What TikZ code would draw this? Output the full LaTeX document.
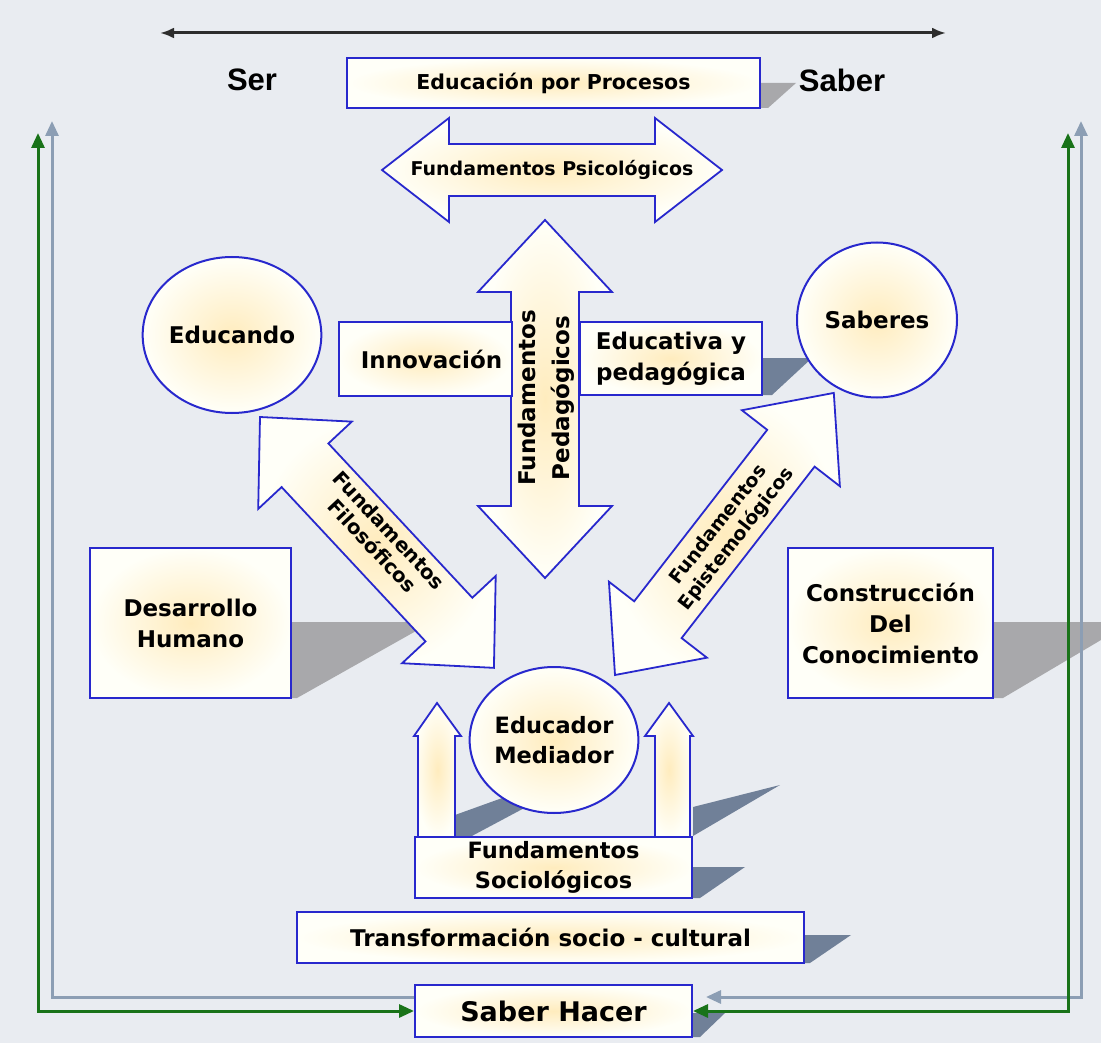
\documentclass[tikz,border=0pt]{standalone}
\usepackage{fontspec}
\setmainfont{DejaVu Sans}
\newfontfamily\arialfont{Liberation Sans}
\usetikzlibrary{shapes.geometric,arrows.meta}

\definecolor{bgpaper}{RGB}{233,236,241}
\definecolor{edgeblue}{RGB}{40,40,205}
\definecolor{creamc}{RGB}{255,236,190}
\definecolor{creamo}{RGB}{255,255,248}
\definecolor{shadowgray}{RGB}{168,168,171}
\definecolor{shadowslate}{RGB}{112,128,152}
\definecolor{linegreen}{RGB}{25,115,25}
\definecolor{linegray}{RGB}{140,158,180}
\definecolor{topgray}{RGB}{45,45,45}

\tikzset{
  box/.style={draw=edgeblue, line width=2pt, inner color=creamc, outer color=creamo,
    inner sep=0pt, align=center, font=\bfseries\fontsize{23}{31}\selectfont},
  oval/.style={box, ellipse},
  arrowbody/.style={draw=edgeblue, line width=1.8pt, line join=miter,
    inner color=creamc, outer color=creamo},
  lbl/.style={align=center, inner sep=0pt},
  shgray/.style={fill=shadowgray},
  shslate/.style={fill=shadowslate},
  greenln/.style={draw=linegreen, line width=3pt},
  grayln/.style={draw=linegray, line width=3pt},
  topln/.style={draw=topgray, line width=3pt},
  smalltri/.tip={Triangle[length=15pt,width=13pt]}
}

% double arrow along x: options, length, half shaft, half head, head length
\newcommand\dblarrow[5]{%
  \begin{scope}[#1]
    \draw[arrowbody] (0,0) -- (#5,#4) -- (#5,#3) -- ({#2-#5},#3) -- ({#2-#5},#4) -- (#2,0)
      -- ({#2-#5},-#4) -- ({#2-#5},-#3) -- (#5,-#3) -- (#5,-#4) -- cycle;
  \end{scope}}

\begin{document}
\begin{tikzpicture}[x=1pt,y=-1pt]
  \useasboundingbox (0,0) rectangle (1101,1043);
  \fill[bgpaper] (0,0) rectangle (1101,1043);

  % shadows
  \fill[shgray] (760,83) -- (796,83) -- (768,108) -- (760,108) -- cycle;
  \fill[shslate] (762,358) -- (812,358) -- (772,395) -- (762,395) -- cycle;
  \fill[shgray] (291,622) -- (432,622) -- (297,698) -- (291,698) -- cycle;
  \fill[shgray] (993,622) -- (1101,622) -- (1101,640) -- (1003,698) -- (993,698) -- cycle;
  \fill[shslate] (455,837) -- (455,815) -- (530,788) -- (530,805) -- (470,837) -- cycle;
  \fill[shslate] (693,807) -- (780,785) -- (693,836) -- cycle;
  \fill[shslate] (692,867) -- (745,867) -- (700,898) -- (692,898) -- cycle;
  \fill[shslate] (804,935) -- (851,935) -- (810,963) -- (804,963) -- cycle;
  \fill[shslate] (692,1013) -- (725,1013) -- (700,1037) -- (692,1037) -- cycle;

  % big arrows
  \dblarrow{shift={(382,170)}}{340}{26}{52}{67}
  \dblarrow{shift={(545,578)},rotate=90}{358}{34}{67}{72}
  \dblarrow{shift={(260,417)},rotate=-47}{343}{32}{64}{66}
  \dblarrow{shift={(615,675)},rotate=52.2}{357}{30}{62}{70}

  % small arrows under the educador
  \draw[arrowbody] (418,837) -- (418,736) -- (414,736) -- (437,703) -- (461,736) -- (455,736) -- (455,837) -- cycle;
  \draw[arrowbody] (655,837) -- (655,736) -- (645,736) -- (669,703) -- (693,736) -- (690,736) -- (690,837) -- cycle;

  % boxes and circles
  \node (proc) at (553.5,83) [box, minimum width=413pt, minimum height=50pt,
    font=\bfseries\fontsize{20.5}{25}\selectfont] {Educación por Procesos};
  \node (innov) at (425.5,359) [box, minimum width=173pt, minimum height=74pt] {\hspace*{12pt}Innovación};
  \node (eduped) at (671,358.5) [box, minimum width=182pt, minimum height=73pt] {Educativa y\\pedagógica};
  \node (desarr) at (190.5,623) [box, minimum width=201pt, minimum height=150pt] {Desarrollo\\Humano};
  \node (constr) at (890.5,623) [box, minimum width=205pt, minimum height=150pt] {Construcción\\Del\\Conocimiento};
  \node (socio) at (553.5,867.5) [box, minimum width=277pt, minimum height=61pt,
    font=\bfseries\fontsize{22.5}{30}\selectfont] {Fundamentos\\Sociológicos};
  \node (transf) at (550.5,937.5) [box, minimum width=507pt, minimum height=51pt] {Transformación socio - cultural};
  \node (hacer) at (553.5,1011) [box, minimum width=277pt, minimum height=52pt,
    font=\bfseries\fontsize{27}{32}\selectfont] {Saber Hacer};
  \node (educando) at (232,335) [oval, minimum width=166pt, minimum height=156pt] {Educando};
  \node (saberes) at (877,320) [oval, minimum width=160pt, minimum height=155pt] {Saberes};
  \node (educador) at (554,740) [oval, minimum width=152pt, minimum height=146pt,
    font=\bfseries\fontsize{22.5}{30}\selectfont] {Educador\\Mediador};

  % arrow labels
  \node (psico) at (552,170) [lbl, font=\bfseries\fontsize{19}{23}\selectfont] {Fundamentos Psicológicos};
  \node (peda) at (546,398) [lbl, rotate=90, font=\bfseries\fontsize{23}{34}\selectfont] {Fundamentos\\Pedagógicos};
  \node (filo) at (381,538) [lbl, rotate=-47, font=\bfseries\fontsize{20}{23}\selectfont] {Fundamentos\\Filosóficos};
  \node (episte) at (728,532) [lbl, rotate=52.2, font=\bfseries\fontsize{19}{23}\selectfont] {Fundamentos\\Epistemológicos};

  \node (ser) at (252,80) [font=\arialfont\bfseries\fontsize{31}{36}\selectfont] {Ser};
  \node (saber) at (842,80) [font=\arialfont\bfseries\fontsize{31}{36}\selectfont] {Saber};

  % side lines
  \coordinate (tL) at (160,33);
  \coordinate (tR) at (946,33);
  \coordinate (gL) at (38,133);
  \coordinate (yL) at (52,121);
  \coordinate (gR) at (1068,133);
  \coordinate (yR) at (1081,121);

  \draw[topln, {Latex[length=14pt,width=11pt]}-{Latex[length=14pt,width=11pt]}] (tL) -- (tR);
  \draw[grayln, smalltri-] (yL) |- ([yshift=14pt]hacer.west);
  \draw[greenln, smalltri-smalltri] (gL) |- (hacer.west);
  \draw[grayln, smalltri-smalltri] (yR) |- ([xshift=13pt,yshift=14pt]hacer.east);
  \draw[greenln, smalltri-smalltri] (gR) |- (hacer.east);
\end{tikzpicture}
\end{document}
